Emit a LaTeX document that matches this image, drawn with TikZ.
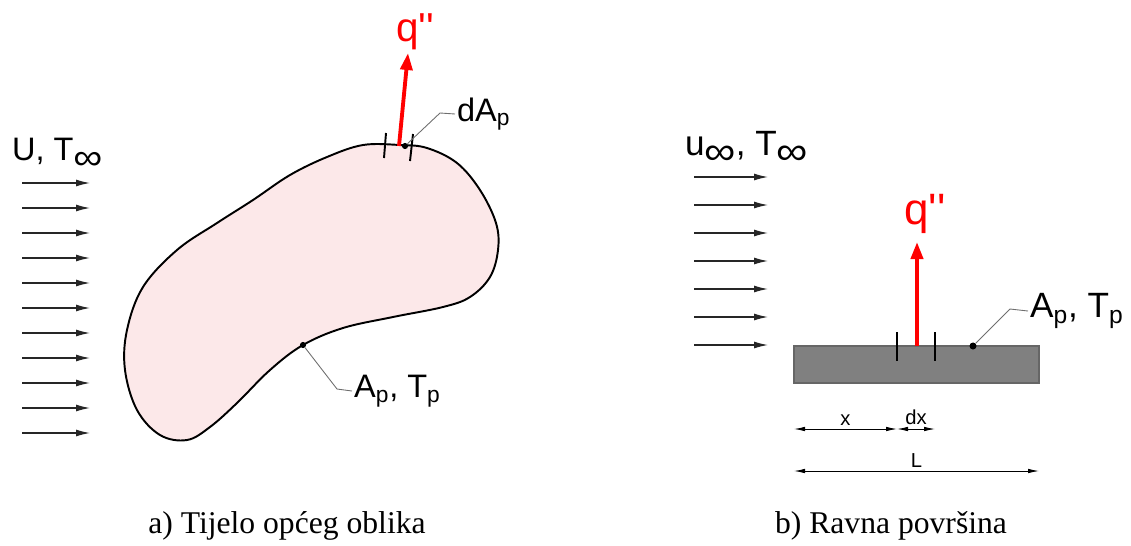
\documentclass[tikz,border=0pt]{standalone}
\usepackage{fontspec}
\setmainfont{Liberation Sans}[Ligatures=TeXOff]
\newfontfamily\captionserif{Liberation Serif}
\usetikzlibrary{arrows.meta, positioning, calc}
\definecolor{heatred}{RGB}{255,0,0}
\definecolor{bodypink}{RGB}{252,232,233}
\definecolor{plategray}{RGB}{128,128,128}
\definecolor{leadgray}{RGB}{110,110,110}
% subscript infinity as drawn in the figure
\newcommand{\subinf}{\raisebox{-0.28em}{\scalebox{1.25}[1.1]{∞}}}
\newcommand{\qflux}{q''}

\begin{document}
\begin{tikzpicture}[x=0.02cm, y=-0.02cm,
    flow/.style={-{Latex[length=2.8mm, width=1.4mm]}, line width=0.7pt, color=black!85},
    heat/.style={-{Triangle[length=3.4mm, width=2.4mm]}, line width=2.2pt, color=heatred},
    body/.style={draw=black, fill=bodypink, line width=1.1pt},
    tick/.style={line width=1.1pt},
    leader/.style={line width=0.5pt, color=leadgray},
    dim/.style={{Latex[length=2.2mm, width=0.9mm]}-{Latex[length=2.2mm, width=0.9mm]}, line width=0.5pt},
    dot/.style={circle, fill=black, inner sep=0pt, minimum size=4pt},
    lblsmall/.style={font=\fontsize{18.5}{22}\selectfont, inner sep=1pt},
    lblbig/.style={font=\fontsize{20}{24}\selectfont, inner sep=1pt},
    fluxlabel/.style={text=heatred, inner sep=1pt, anchor=base},
    dimlabel/.style={font=\fontsize{11.5}{13}\selectfont, inner sep=1pt},
    caption/.style={font=\captionserif\fontsize{18}{21}\selectfont}
]
\useasboundingbox (0,0) rectangle (1131,545);

% a) body of general shape
\node[lblsmall, anchor=base west] (flowA) at (10,160) {U, T\subinf};
\foreach \i in {0,...,10} {
  \coordinate (fa\i) at (22,183+25*\i);
  \coordinate (fb\i) at (90,183+25*\i);
  \draw[flow] (fa\i) -- (fb\i);
}
\draw[body] plot[smooth cycle, tension=0.6] coordinates {
  (363,145) (400,145) (427,148) (457,163) (480,190) (496,223) (498,250)
  (490,277) (470,297) (443,307) (393,317) (343,328) (303,345) (270,370)
  (237,403) (210,427) (187,440) (160,435) (137,410) (125,370) (127,330)
  (143,287) (177,250) (217,223) (253,200) (290,175) (327,157)};
\draw[tick] (386,133) -- (384,158);
\draw[tick] (413,134) -- (410,161);
\coordinate (qbaseA) at (399,146);
\coordinate (qtipA) at (408,53);
\draw[heat] (qbaseA) -- (qtipA);
\node[fluxlabel, font=\fontsize{23}{27}\selectfont] (qA) at (415,41) {\qflux};
\node[dot, minimum size=3.5pt] (dotdA) at (405,146) {};
\coordinate (benddA) at (440,113);
\node[lblsmall, anchor=west] (dA) at (455,114) {dA\textsubscript{p}};
\draw[leader] (dotdA) -- (benddA) -- (dA.west);
\node[dot, minimum size=3.5pt] (dotApA) at (303,345) {};
\coordinate (bendApA) at (337,389);
\node[lblsmall, anchor=west] (ApA) at (352,391) {A\textsubscript{p}, T\textsubscript{p}};
\draw[leader] (dotApA) -- (bendApA) -- (ApA.west);

% b) flat surface
\node[lblbig, anchor=base west] (flowB) at (683,155) {u\subinf, T\subinf};
\foreach \i in {0,...,6} {
  \coordinate (ga\i) at (694,177+28*\i);
  \coordinate (gb\i) at (768,177+28*\i);
  \draw[flow] (ga\i) -- (gb\i);
}
\coordinate (plateNW) at (794,346);
\coordinate (plateSE) at (1039,383);
\draw[fill=plategray, draw=black!60, line width=0.6pt] (plateNW) rectangle (plateSE);
\draw[tick] (897,332) -- (897,361);
\draw[tick] (935,332) -- (935,361);
\coordinate (qbaseB) at (917,346);
\coordinate (qtipB) at (917,242);
\draw[heat] (qbaseB) -- (qtipB);
\node[fluxlabel, font=\fontsize{25}{29}\selectfont] (qB) at (925,224) {\qflux};
\node[dot] (dotApB) at (973,346) {};
\coordinate (bendApB) at (1010,309);
\node[lblbig, anchor=west] (ApB) at (1028,311) {A\textsubscript{p}, T\textsubscript{p}};
\draw[leader] (dotApB) -- (bendApB) -- (ApB.west);

% dimensions
\coordinate (dimx0) at (794,429);
\coordinate (dimx1) at (897,429);
\coordinate (dimx2) at (935,429);
\coordinate (dimL0) at (794,471);
\coordinate (dimL1) at (1039,471);
\draw[dim] (dimx0) -- node[dimlabel, above=1pt] {x} (dimx1);
\draw[dim] (dimx1) -- node[dimlabel, above=1pt] {dx} (dimx2);
\draw[dim] (dimL0) -- node[dimlabel, above=1pt] {L} (dimL1);

% captions
\node[caption, anchor=base] (capA) at (287,533) {a) Tijelo općeg oblika};
\node[caption, anchor=base] (capB) at (891,533) {b) Ravna površina};
\end{tikzpicture}
\end{document}
